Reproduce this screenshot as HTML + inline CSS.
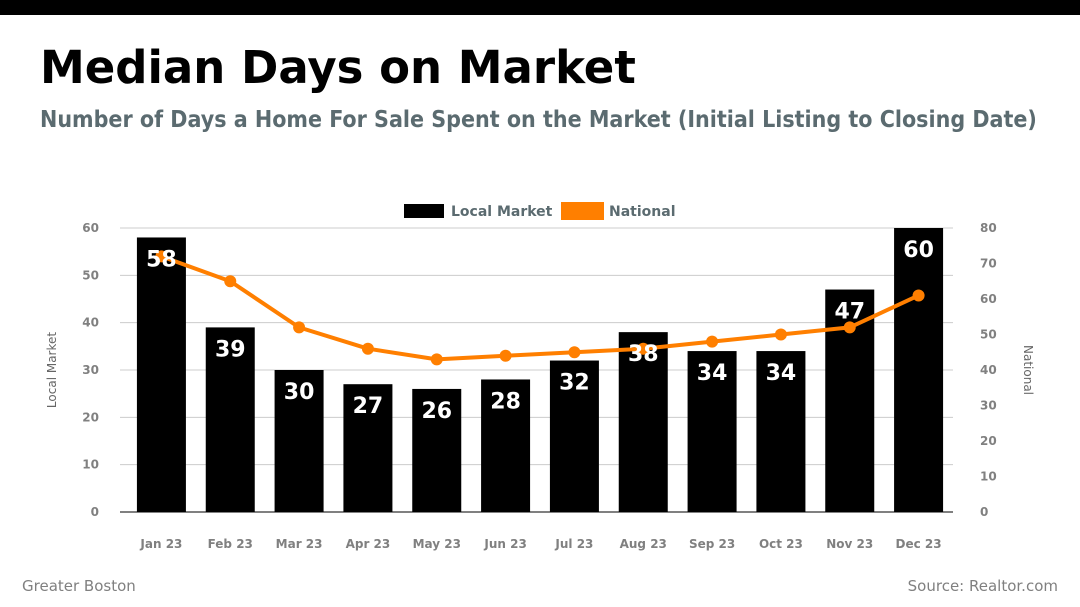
<!DOCTYPE html>
<html><head><meta charset="utf-8">
<style>
body{margin:0;width:1080px;height:607px;background:#fff;overflow:hidden;position:relative;font-family:"DejaVu Sans","Liberation Sans",sans-serif}
#topbar{position:absolute;left:0;top:0;width:1080px;height:15px;background:#000}
#title{position:absolute;left:40px;top:40px;font-size:45px;font-weight:bold;color:#000;margin:0;line-height:56px}
#subtitle{position:absolute;left:40px;top:104px;font-family:"DejaVu Sans Condensed","DejaVu Sans",sans-serif;font-stretch:condensed;font-size:23px;font-weight:bold;color:#5b6b70;line-height:32px;white-space:nowrap}
.foot{position:absolute;top:577px;font-size:15px;color:#808080}
svg{position:absolute;left:0;top:0}
</style></head><body>
<div id="topbar"></div>
<div id="title">Median Days on Market</div>
<div id="subtitle">Number of Days a Home For Sale Spent on the Market (Initial Listing to Closing Date)</div>
<div class="foot" style="left:22px">Greater Boston</div>
<div class="foot" style="right:22px">Source: Realtor.com</div>
<svg id="chart" width="1080" height="607"></svg>
<script>
const categories=["Jan 23","Feb 23","Mar 23","Apr 23","May 23","Jun 23","Jul 23","Aug 23","Sep 23","Oct 23","Nov 23","Dec 23"];
const localValues=[58,39,30,27,26,28,32,38,34,34,47,60];
const nationalValues=[72,65,52,46,43,44,45,46,48,50,52,61];
const leftTicks=[0,10,20,30,40,50,60];
const rightTicks=[0,10,20,30,40,50,60,70,80];

const NS="http://www.w3.org/2000/svg";
const svg=document.getElementById('chart');
function mk(t,a,p){const e=document.createElementNS(NS,t);for(const k in a)e.setAttribute(k,a[k]);(p||svg).appendChild(e);return e;}
const y0=512,y1=228,xL=127,xR=953;
const yL=v=>y0-(v/60)*(y0-y1);
const yR=v=>y0-(v/80)*(y0-y1);
const step=(xR-xL)/categories.length;
const xC=i=>xL+step*(i+0.5);

leftTicks.forEach(v=>{
  if(v>0){const g=mk('line',{x1:120,x2:953,y1:yL(v),y2:yL(v),stroke:'#cccccc','stroke-width':1});
  
  }
  const t=mk('text',{x:99,y:yL(v)+4,'text-anchor':'end','font-size':12,'font-weight':'bold',fill:'#808080'});t.textContent=v;
  
  
});
rightTicks.forEach(v=>{
  const t=mk('text',{x:980,y:yR(v)+4,'font-size':12,'font-weight':'bold',fill:'#808080'});t.textContent=v;
  
  
});
const base=mk('line',{x1:120,x2:953,y1:y0,y2:y0,stroke:'#000','stroke-width':1});



categories.forEach((c,i)=>{
  const b=mk('rect',{x:xC(i)-24.5,y:yL(localValues[i]),width:49,height:y0-yL(localValues[i]),fill:'#000'});
  
  
  const t=mk('text',{x:xC(i),y:548,'text-anchor':'middle','font-size':12,'font-weight':'bold',fill:'#808080'});t.textContent=c;
  
  
});
const pts=nationalValues.map((v,i)=>xC(i)+','+yR(v)).join(' ');
const line=mk('polyline',{points:pts,fill:'none',stroke:'#ff7f00','stroke-width':4,'stroke-linejoin':'round'});


nationalValues.forEach((v,i)=>{
  const d=mk('circle',{cx:xC(i),cy:yR(v),r:6,fill:'#ff7f00'});
  
  
});
localValues.forEach((v,i)=>{
  const t=mk('text',{x:xC(i),y:yL(v)+29,'text-anchor':'middle','font-size':22,'font-weight':'bold',fill:'#fff'});t.textContent=v;
  
  
});
const lt=mk('text',{x:0,y:0,transform:'translate(56,370) rotate(-90)','text-anchor':'middle','font-size':12,fill:'#666'});lt.textContent='Local Market';


const rt=mk('text',{x:0,y:0,transform:'translate(1024,370) rotate(90)','text-anchor':'middle','font-size':12,fill:'#666'});rt.textContent='National';


const l1=mk('rect',{x:404,y:204,width:40,height:14,fill:'#000'});


const l1t=mk('text',{x:451,y:216,'font-size':14,'font-weight':'bold',fill:'#5b6b70'});l1t.textContent='Local Market';


const l2=mk('rect',{x:561,y:202,width:43,height:18,fill:'#ff7f00'});


const l2t=mk('text',{x:609,y:216,'font-size':14,'font-weight':'bold',fill:'#5b6b70'});l2t.textContent='National';


</script>
</body></html>
